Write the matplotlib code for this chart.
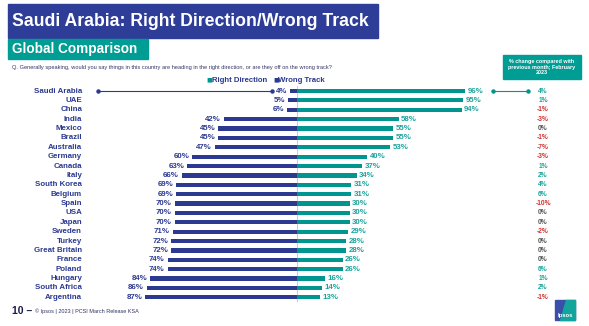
"""Saudi Arabia: Right Direction / Wrong Track - global comparison slide."""

import matplotlib.pyplot as plt
from matplotlib.patches import Rectangle, Polygon
from matplotlib.transforms import blended_transform_factory

countries = [
    "Saudi Arabia", "UAE", "China", "India", "Mexico", "Brazil", "Australia",
    "Germany", "Canada", "Italy", "South Korea", "Belgium", "Spain", "USA",
    "Japan", "Sweden", "Turkey", "Great Britain", "France", "Poland",
    "Hungary", "South Africa", "Argentina",
]
right_direction = [96, 95, 94, 58, 55, 55, 53, 40, 37, 34, 31, 31, 30, 30,
                   30, 29, 28, 28, 26, 26, 16, 14, 13]
wrong_track = [4, 5, 6, 42, 45, 45, 47, 60, 63, 66, 69, 69, 70, 70,
               70, 71, 72, 72, 74, 74, 84, 86, 87]
change_vs_feb = [4, 1, -1, -3, 0, -1, -7, -3, 1, 2, 4, 6, -10, 0,
                 0, -2, 0, 0, 0, 6, 1, 2, -1]

NAVY = "#2B3990"
TEAL = "#00968F"
TEAL_TXT = "#1AA39B"
RED = "#D0312D"
GREY = "#555555"

W, H = 589, 326
fig = plt.figure(figsize=(W / 100, H / 100), dpi=100)
fig.patch.set_facecolor("white")


def fx(px):
    return px / W


def fy(py):
    return 1 - py / H


# banners
fig.patches.append(Rectangle((fx(8), fy(37.5)), fx(370), (33.5) / H,
                             transform=fig.transFigure, color="#2E3D98", zorder=0))
fig.text(fx(12), fy(21.5), "Saudi Arabia: Right Direction/Wrong Track",
         family="Liberation Sans", weight="bold", size=12.7, color="white",
         va="center", ha="left")
fig.patches.append(Rectangle((fx(8), fy(58.5)), fx(140), 19.5 / H,
                             transform=fig.transFigure, color="#009D94", zorder=0))
fig.text(fx(12), fy(49), "Global Comparison", family="Liberation Sans",
         weight="bold", size=9.8, color="white", va="center", ha="left")

fig.text(fx(12), fy(67.5), "Q. Generally speaking, would you say things in this country are "
         "heading in the right direction, or are they off on the wrong track?",
         family="Liberation Sans", size=4.05, color="#333366", va="center")

# legend
fig.text(fx(206), fy(80), "■", color=TEAL, size=4.5, va="center", family="DejaVu Sans")
fig.text(fx(211.5), fy(80), "Right Direction", color=NAVY, size=5.6, weight="bold",
         va="center", family="Liberation Sans")
fig.text(fx(273), fy(80), "■", color=NAVY, size=4.5, va="center", family="DejaVu Sans")
fig.text(fx(278.5), fy(80), "Wrong Track", color=NAVY, size=5.6, weight="bold",
         va="center", family="Liberation Sans")

# change box
fig.patches.append(Rectangle((fx(503), fy(79)), fx(78), 24 / H,
                             transform=fig.transFigure, color="#009D94", zorder=0))
fig.text(fx(542), fy(67), "% change compared with\nprevious month; February\n2023",
         color="white", size=3.9, weight="bold", ha="center", va="center",
         linespacing=1.05, family="Liberation Sans")

# bar axes: 0% at x=297px, 1.75 px per %, rows every ~9.38 px from y=91
zero_px, scale = 297, 1.75
row0, row_n = 91, 297.3
step = (row_n - row0) / (len(countries) - 1)
top_px, bot_px = row0 - step / 2, row_n + step / 2
ax = fig.add_axes([0, fy(bot_px), 1, (bot_px - top_px) / H])
ax.set_xlim(-zero_px / scale, (W - zero_px) / scale)
ax.set_ylim(len(countries) - 0.5, -0.5)
ax.axis("off")

y = list(range(len(countries)))
ax.barh(y, [-v for v in wrong_track], height=0.45, color=NAVY)
ax.barh(y, right_direction, height=0.45, color=TEAL)
ax.axvline(0, color="#B8C8C8", lw=0.6, zorder=0)

lab = dict(size=5.7, weight="bold", va="center", family="Liberation Sans")
for i, (c, r, w, ch) in enumerate(zip(countries, right_direction, wrong_track, change_vs_feb)):
    ax.text((82 - zero_px) / scale, i, c, ha="right", color=NAVY, **lab)
    ax.text(-w - 1.5, i, f"{w}%", ha="right", color=NAVY, **lab)
    ax.text(r + 1.5, i, f"{r}%", ha="left", color=TEAL_TXT, **lab)
    col = TEAL_TXT if ch > 0 else (RED if ch < 0 else GREY)
    ax.text((543 - zero_px) / scale, i, f"{ch}%", ha="center", color=col,
            size=4.8, weight="bold", va="center", family="Liberation Sans")

# connector lines on the first row
trans = blended_transform_factory(fig.transFigure, ax.transData)
ax.plot([fx(98), fx(272)], [0, 0], color=NAVY, lw=0.8, marker="o", ms=2.2,
        transform=trans, clip_on=False)
ax.plot([fx(493), fx(528)], [0, 0], color=TEAL, lw=0.8, marker="o", ms=2.2,
        transform=trans, clip_on=False)

# footer
fig.text(fx(12), fy(311), "10 –", size=7.5, weight="bold", color="#1A1A4A",
         va="center", family="Liberation Sans")
fig.text(fx(35), fy(311), "© Ipsos | 2023 | PCSI March Release KSA", size=4,
         color="#333366", va="center", family="Liberation Sans")

# logo
fig.patches.append(Rectangle((fx(555), fy(320)), fx(20), 20 / H,
                             transform=fig.transFigure, color="#3A4FA8", zorder=1))
fig.patches.append(Polygon([(fx(566), fy(300)), (fx(575), fy(300)), (fx(575), fy(320)),
                            (fx(560), fy(320))], closed=True,
                           transform=fig.transFigure, color="#12A59C", zorder=1))
fig.text(fx(565), fy(315), "Ipsos", size=4.2, weight="bold", color="white",
         ha="center", va="center", family="Liberation Sans", zorder=2)

fig.savefig("out.png", dpi=100)
